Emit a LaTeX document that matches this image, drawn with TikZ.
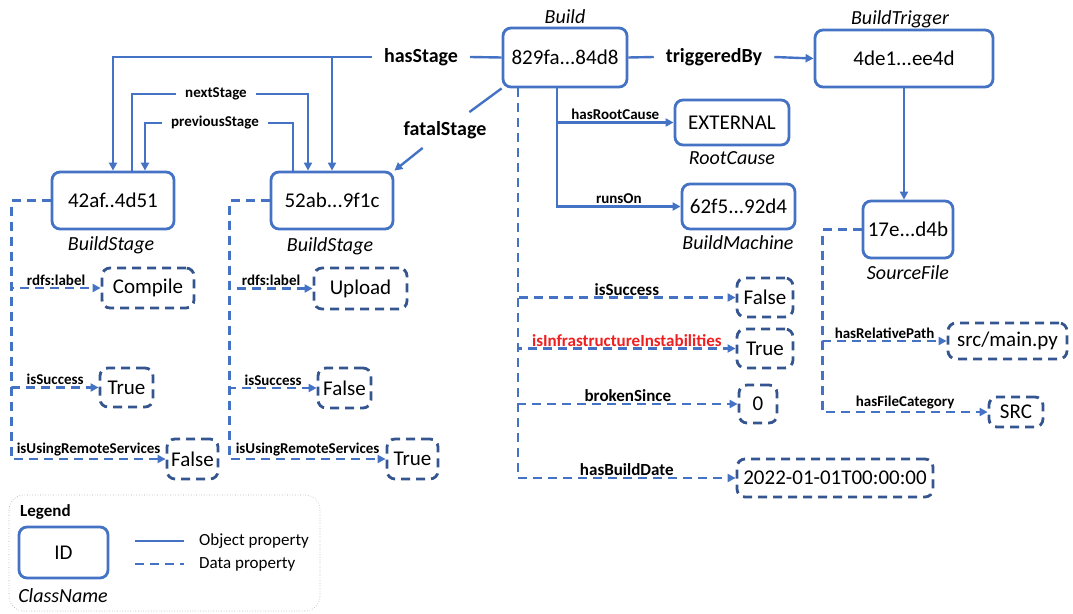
\documentclass[tikz,border=0pt]{standalone}
\usepackage{fontspec}
\setmainfont{Carlito}
\usepackage{xcolor}
\usepackage{tikz}
\usetikzlibrary{arrows.meta,calc}
\definecolor{objblue}{HTML}{4472C4}
\definecolor{datanavy}{HTML}{34558F}
\definecolor{alertred}{HTML}{F01E1E}
\tikzstyle{tsIdText} = [
    text=black,
    font=\fontsize{21}{24}\selectfont
]
\tikzstyle{tsObjBox} = [
    rectangle,
    tsIdText,
    draw=objblue,
    line width=2.8pt,
    rounded corners=8pt,
    inner sep=0pt
]
\tikzstyle{tsDataBox} = [
    tsObjBox,
    draw=datanavy,
    dash pattern=on 9pt off 6pt
]
\tikzstyle{tsClassName} = [
    text=black,
    font=\fontsize{20}{24}\selectfont\itshape
]
\tikzstyle{tsBigLabel} = [
    text=black,
    font=\fontsize{20}{24}\selectfont\bfseries,
    inner xsep=12pt,
    inner ysep=9pt
]
\tikzstyle{tsMidLabel} = [
    text=black,
    font=\fontsize{17}{20}\selectfont\bfseries,
    inner sep=1pt
]
\tikzstyle{tsSmallLabel} = [
    text=black,
    font=\fontsize{15}{18}\selectfont\bfseries,
    inner sep=1.5pt
]
\tikzstyle{tsObjProp} = [
    draw=objblue,
    line width=2.4pt
]
\tikzstyle{tsDataProp} = [
    tsObjProp,
    dash pattern=on 9pt off 6pt
]

\begin{document}
\begin{tikzpicture}[x=1pt, y=-1pt, >={Triangle[length=8pt,width=8pt]}]
        \useasboundingbox (0,0) rectangle (1073,613);

        % Define nodes
        \node[tsObjBox, minimum width=124pt, minimum height=59pt] (build) at (565,57.5) {829fa...84d8};
        \node[tsObjBox, minimum width=178pt, minimum height=57pt] (trigger) at (904,58.5) {4de1...ee4d};
        \node[tsObjBox, minimum width=122pt, minimum height=57pt] (stagea) at (113,200.5) {42af..4d51};
        \node[tsObjBox, minimum width=122pt, minimum height=57pt] (stageb) at (332,200.5) {52ab...9f1c};
        \node[tsObjBox, minimum width=114pt, minimum height=45pt] (cause) at (732,122.5) {EXTERNAL};
        \node[tsObjBox, minimum width=113pt, minimum height=45pt] (machine) at (738.5,206.5) {62f5...92d4};
        \node[tsObjBox, minimum width=90pt, minimum height=57pt] (source) at (908,229.5) {17e...d4b};

        % Class names
        \node[tsClassName] (buildcls) at (565,17) {Build};
        \node[tsClassName] (triggercls) at (900,19) {BuildTrigger};
        \node[tsClassName] (stageacls) at (111,245) {BuildStage};
        \node[tsClassName] (stagebcls) at (330,246) {BuildStage};
        \node[tsClassName] (causecls) at (732,158) {RootCause};
        \node[tsClassName] (machinecls) at (738,243) {BuildMachine};
        \node[tsClassName] (sourcecls) at (908,273) {SourceFile};

        % Literal values
        \node[tsDataBox, minimum width=92pt, minimum height=40pt] (compile) at (148,288) {Compile};
        \node[tsDataBox, minimum width=53pt, minimum height=39pt] (truea) at (126.5,387.5) {True};
        \node[tsDataBox, minimum width=51pt, minimum height=40pt] (falsea) at (192.5,459) {False};
        \node[tsDataBox, minimum width=93pt, minimum height=41pt] (upload) at (360.5,288.5) {Upload};
        \node[tsDataBox, minimum width=53pt, minimum height=40pt] (falseb) at (344.5,388) {False};
        \node[tsDataBox, minimum width=51pt, minimum height=40pt] (trueb) at (412.5,459) {True};
        \node[tsDataBox, minimum width=56pt, minimum height=39pt] (falsec) at (765,297.5) {False};
        \node[tsDataBox, minimum width=56pt, minimum height=39pt] (truec) at (765,348.5) {True};
        \node[tsDataBox, minimum width=38pt, minimum height=38pt] (zero) at (758,404) {0};
        \node[tsDataBox, minimum width=196pt, minimum height=38pt] (date) at (835,478) {2022-01-01T00:00:00};
        \node[tsDataBox, minimum width=119pt, minimum height=36pt] (path) at (1007.5,341) {src/main.py};
        \node[tsDataBox, minimum width=54pt, minimum height=30pt] (category) at (1016,412) {SRC};

        % Object properties
        \node[tsBigLabel] (hasstage) at (421,57) {hasStage};
        \node[tsBigLabel] (trigby) at (714,57) {triggeredBy};
        \node[tsBigLabel, inner xsep=2pt] (fatal) at (445,130) {fatalStage};
        \node[tsSmallLabel, inner xsep=9pt] (next) at (216,94) {nextStage};
        \node[tsSmallLabel, inner xsep=9pt] (prev) at (215,123) {previousStage};

        \draw[tsObjProp] (build.west) -- (hasstage.east);
        \draw[tsObjProp, ->] (hasstage.west) -| (stagea.north);
        \draw[tsObjProp, ->] (hasstage.west -| stageb.north) -- (stageb.north);
        \draw[tsObjProp] ([xshift=19pt]stagea.north) |- (next.west);
        \draw[tsObjProp, ->] (next.east) -| ([xshift=-24pt]stageb.north);
        \draw[tsObjProp] ([xshift=-39pt]stageb.north) |- (prev.east);
        \draw[tsObjProp, ->] (prev.west) -| ([xshift=32pt]stagea.north);
        \draw[tsObjProp] (build.south west) -- (fatal);
        \draw[tsObjProp, ->] (fatal) -- (stageb.north east);
        \draw[tsObjProp] (build.east) -- (trigby.west);
        \draw[tsObjProp, ->] (trigby.east) -- (trigger.west);
        \draw[tsObjProp, ->] (trigger.south) -- (trigger.south |- source.north);
        \draw[tsObjProp, ->] ([xshift=-8pt]build.south) |- (cause.west)
            node[tsSmallLabel, pos=0.75, above] (rootlbl) {hasRootCause};
        \draw[tsObjProp, ->] ([xshift=-8pt]build.south) |- (machine.west)
            node[tsSmallLabel, pos=0.75, above] (runslbl) {runsOn};

        % Data properties of the stages
        \draw[tsDataProp, ->] (stagea.west) -- ++(-39,0) |- (compile.west)
            node[tsSmallLabel, pos=0.75, above] (labela) {rdfs:label};
        \draw[tsDataProp, ->] (stagea.west) -- ++(-39,0) |- (truea.west)
            node[tsSmallLabel, pos=0.75, above] (succa) {isSuccess};
        \draw[tsDataProp, ->] (stagea.west) -- ++(-39,0) |- (falsea.west)
            node[tsSmallLabel, pos=0.75, above] (remotea) {isUsingRemoteServices};
        \draw[tsDataProp, ->] (stageb.west) -- ++(-40,0) |- (upload.west)
            node[tsSmallLabel, pos=0.75, above] (labelb) {rdfs:label};
        \draw[tsDataProp, ->] (stageb.west) -- ++(-40,0) |- (falseb.west)
            node[tsSmallLabel, pos=0.75, above] (succb) {isSuccess};
        \draw[tsDataProp, ->] (stageb.west) -- ++(-40,0) |- (trueb.west)
            node[tsSmallLabel, pos=0.75, above] (remoteb) {isUsingRemoteServices};

        % Data properties of the build
        \draw[tsDataProp, ->] ([xshift=-47pt]build.south) |- (falsec.west)
            node[tsMidLabel, pos=0.75, above] (succc) {isSuccess};
        \draw[tsDataProp, ->] ([xshift=-47pt]build.south) |- (truec.west)
            node[tsMidLabel, pos=0.75, above, text=alertred] (infra) {isInfrastructureInstabilities};
        \draw[tsDataProp, ->] ([xshift=-47pt]build.south) |- (zero.west)
            node[tsMidLabel, pos=0.75, above] (broken) {brokenSince};
        \draw[tsDataProp, ->] ([xshift=-47pt]build.south) |- (date.west)
            node[tsMidLabel, pos=0.75, above] (datelbl) {hasBuildDate};

        % Data properties of the source file
        \draw[tsDataProp, ->] (source.west) -- ++(-39,0) |- (path.west)
            node[tsSmallLabel, pos=0.75, above] (pathlbl) {hasRelativePath};
        \draw[tsDataProp, ->] (source.west) -- ++(-39,0) |- (category.west)
            node[tsSmallLabel, pos=0.75, above] (catlbl) {hasFileCategory};

        % Legend
        \draw[gray!70, line width=0.6pt, dotted, rounded corners=15pt] (9,495) rectangle (320,611);
        \node[tsMidLabel, anchor=west] (legend) at (19,512) {Legend};
        \node[tsObjBox, minimum width=89pt, minimum height=51pt] (legid) at (63.5,552.5) {ID};
        \node[tsClassName] (legcls) at (63,596) {ClassName};
        \node[tsIdText, font=\fontsize{17}{20}\selectfont, anchor=west, inner sep=0pt] (legobj) at (199,541) {Object property};
        \node[tsIdText, font=\fontsize{17}{20}\selectfont, anchor=west, inner sep=0pt] (legdat) at (199,564) {Data property};
        \coordinate (legobjstart) at (135,541);
        \coordinate (legdatstart) at (135,564);
        \draw[tsObjProp] (legobjstart) -- (legobjstart -| 184,0);
        \draw[tsDataProp] (legdatstart) -- (legdatstart -| 184,0);

    \end{tikzpicture}
\end{document}
